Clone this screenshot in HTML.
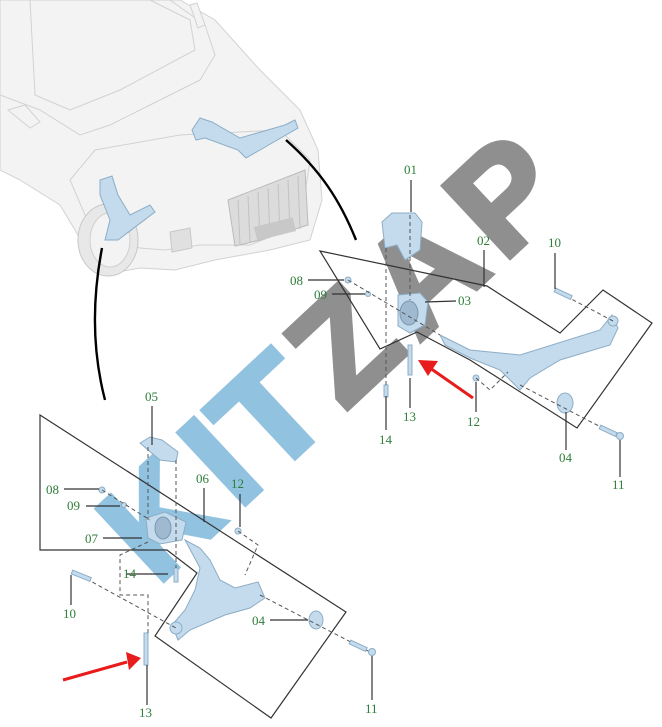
<!DOCTYPE html>
<html><head><meta charset="utf-8"><style>
html,body{margin:0;padding:0;background:#fff;width:662px;height:727px;overflow:hidden}
svg{display:block}
.l{font-family:"Liberation Serif",serif;font-size:13px;fill:#2f7d3a}
.p{fill:#c3dbec;stroke:#8cadc6;stroke-width:1}
.ln{stroke:#333;stroke-width:1.2;fill:none}
.d{stroke:#555;stroke-width:1;stroke-dasharray:4 3;fill:none}
.c{fill:#f3f3f3;stroke:#d2d2d2;stroke-width:1}
</style></head><body>
<svg width="662" height="727" viewBox="0 0 662 727" xmlns="http://www.w3.org/2000/svg">
<path class="c" d="M0,0 L180,0 L215,20 L260,70 L300,110 L318,150 L322,200 L310,240 L270,250 L215,260 L175,270 L140,268 L118,272 L95,265 L75,230 L60,205 L20,180 L0,170 Z"/>
<path class="c" d="M0,0 L170,0 L205,25 L215,55 L200,80 L150,105 L110,125 L80,135 L40,110 L0,95 Z" fill="#efefef"/>
<path class="c" d="M30,0 L150,0 L190,20 L195,50 L120,90 L70,110 L35,95 Z" fill="#ebebeb"/>
<path class="c" d="M190,5 L197,3 L205,25 L198,28 Z"/>
<path class="c" d="M8,110 L25,105 L40,122 L30,128 Z"/>
<path class="c" d="M70,180 L95,150 L180,135 L280,130 L310,160 L300,225 L250,245 L200,245 L165,250 L140,248 L110,240 L85,215 Z" fill="#f0f0f0"/>
<path d="M228,200 L305,170 L308,225 L260,240 L235,246 Z" fill="#dcdcdc" stroke="#bbb"/>
<g stroke="#c2c2c2" stroke-width="1">
<line x1="238" y1="200" x2="240" y2="245"/><line x1="248" y1="196" x2="250" y2="243"/><line x1="258" y1="192" x2="260" y2="240"/><line x1="268" y1="188" x2="270" y2="238"/><line x1="278" y1="184" x2="280" y2="235"/><line x1="288" y1="180" x2="290" y2="232"/><line x1="298" y1="176" x2="300" y2="229"/>
</g>
<rect x="255" y="222" width="40" height="14" fill="#c8c8c8" transform="rotate(-14 275 229)"/>
<path d="M170,232 L190,228 L192,248 L172,252 Z" fill="#e0e0e0" stroke="#c8c8c8"/>
<ellipse cx="108" cy="240" rx="30" ry="36" fill="#e8e8e8" stroke="#c8c8c8"/>
<ellipse cx="110" cy="240" rx="20" ry="27" fill="#f3f3f3" stroke="#cfcfcf"/>
<path class="p" d="M100,180 L112,176 L118,195 L130,215 L150,205 L155,212 L118,240 L105,240 L110,220 L100,195 Z"/>
<path class="p" d="M192,130 L200,118 L212,122 L240,138 L285,125 L295,120 L298,128 L260,150 L246,158 L238,150 L205,138 L196,140 Z"/>
<path d="M286,140 C320,170 340,200 356,240" stroke="#000" stroke-width="2.4" fill="none"/>
<path d="M102,248 C92,300 92,350 105,400" stroke="#000" stroke-width="2.4" fill="none"/>
<!-- watermark -->
<g transform="translate(253,497) rotate(-43)" font-family="Liberation Sans, sans-serif" font-weight="bold" font-size="142" stroke-width="5" stroke-linejoin="miter" opacity="0.95">
<text x="-131" y="0" fill="#8cbfdf" stroke="#8cbfdf" textLength="96" lengthAdjust="spacingAndGlyphs">K</text>
<text x="-20" y="0" fill="#8cbfdf" stroke="#8cbfdf" textLength="40" lengthAdjust="spacingAndGlyphs">I</text>
<text x="21" y="0" fill="#8cbfdf" stroke="#8cbfdf" textLength="96" lengthAdjust="spacingAndGlyphs">T</text>
<text x="125" y="0" fill="#8a8a8a" stroke="#8a8a8a" textLength="90" lengthAdjust="spacingAndGlyphs">Z</text>
<text x="226" y="0" fill="#8a8a8a" stroke="#8a8a8a" textLength="104" lengthAdjust="spacingAndGlyphs">A</text>
<text x="342" y="0" fill="#8a8a8a" stroke="#8a8a8a" textLength="96" lengthAdjust="spacingAndGlyphs">P</text>
</g>
<!-- upper box -->
<path class="ln" d="M320,251 L487,286 L560,333 L603,290 L652,323 L577,428 L470,360 L417,332 L380,349 Z"/>
<path class="p" d="M382,222 L392,213 L415,213 L422,222 L420,250 L405,260 L397,245 L385,248 Z"/>
<path class="p" d="M398,295 L420,293 L428,302 L425,325 L410,333 L398,326 Z"/>
<ellipse cx="409" cy="313" rx="9" ry="12" fill="#9fbad0" stroke="#7c98ae"/>
<path class="p" d="M440,335 L470,350 L520,355 L600,330 L612,315 L618,328 L610,345 L560,360 L530,378 L520,390 L510,380 L500,370 L470,358 L445,345 Z"/>
<circle cx="613" cy="321" r="5" class="p"/>
<ellipse cx="565" cy="403" rx="8" ry="10" class="p"/>
<circle cx="348" cy="280" r="3" class="p"/><circle cx="368" cy="294" r="2.5" class="p"/>
<circle cx="476" cy="378" r="3" class="p"/>
<rect x="408" y="345" width="4" height="30" class="p"/>
<rect x="384" y="385" width="4" height="12" class="p"/>
<line class="d" x1="410" y1="215" x2="410" y2="300"/>
<line class="d" x1="386" y1="248" x2="386" y2="385"/>
<line class="d" x1="348" y1="280" x2="440" y2="335"/>
<line class="d" x1="560" y1="293" x2="613" y2="321"/>
<line class="d" x1="520" y1="385" x2="620" y2="437"/>
<path class="d" d="M476,378 L490,390 L508,372"/>
<rect x="555" y="288" width="18" height="4" class="p" transform="rotate(25 555 290)"/>
<rect x="600" y="425" width="18" height="4" class="p" transform="rotate(25 600 427)"/>
<circle cx="620" cy="436" r="3.5" class="p"/>
<g class="ln" stroke-width="1">
<line x1="411" y1="180" x2="411" y2="212"/><line x1="484" y1="250" x2="484" y2="287"/>
<line x1="425" y1="302" x2="456" y2="301"/><line x1="308" y1="280" x2="344" y2="280"/>
<line x1="332" y1="294" x2="365" y2="294"/><line x1="555" y1="253" x2="555" y2="289"/>
<line x1="476" y1="382" x2="476" y2="412"/><line x1="410" y1="378" x2="410" y2="408"/>
<line x1="386" y1="396" x2="386" y2="430"/><line x1="566" y1="412" x2="566" y2="450"/>
<line x1="620" y1="440" x2="620" y2="477"/>
</g>
<text class="l" x="404" y="174">01</text><text class="l" x="477" y="245">02</text>
<text class="l" x="458" y="305">03</text><text class="l" x="290" y="285">08</text>
<text class="l" x="314" y="299">09</text><text class="l" x="548" y="247">10</text>
<text class="l" x="467" y="426">12</text><text class="l" x="403" y="421">13</text>
<text class="l" x="379" y="444">14</text><text class="l" x="559" y="462">04</text>
<text class="l" x="612" y="489">11</text>
<!-- lower box -->
<path class="ln" d="M40,415 L346,612 L271,718 L155,636 L197,573 L167,550 L40,550 Z"/>
<path class="p" d="M140,443 L150,437 L162,440 L178,452 L176,462 L160,460 L148,450 Z"/>
<path class="p" d="M146,518 L165,512 L186,522 L182,540 L160,544 L148,538 Z"/>
<ellipse cx="163" cy="528" rx="8" ry="11" fill="#9fbad0" stroke="#7c98ae"/>
<path class="p" d="M185,540 L200,548 L210,560 L220,580 L235,588 L258,582 L265,598 L250,608 L225,615 L190,630 L178,640 L172,625 L185,610 L195,590 L200,568 Z"/>
<circle cx="176" cy="628" r="6" class="p"/>
<ellipse cx="316" cy="620" rx="7" ry="9" class="p"/>
<circle cx="102" cy="490" r="3" class="p"/><circle cx="124" cy="505" r="2.5" class="p"/>
<circle cx="238" cy="531" r="3" class="p"/>
<rect x="144" y="633" width="4" height="32" class="p"/>
<rect x="174" y="568" width="4" height="14" class="p"/>
<line class="d" x1="148" y1="447" x2="148" y2="520"/>
<line class="d" x1="176" y1="460" x2="176" y2="568"/>
<line class="d" x1="102" y1="490" x2="150" y2="520"/>
<line class="d" x1="74" y1="572" x2="176" y2="628"/>
<line class="d" x1="260" y1="595" x2="370" y2="652"/>
<path class="d" d="M238,531 L258,545 L245,575"/>
<path class="d" d="M148,542 L120,555 L120,595 L148,595 L148,633"/>
<rect x="72" y="570" width="20" height="4" class="p" transform="rotate(22 72 572)"/>
<rect x="350" y="640" width="18" height="4" class="p" transform="rotate(25 350 642)"/>
<circle cx="372" cy="652" r="3.5" class="p"/>
<g class="ln" stroke-width="1">
<line x1="152" y1="406" x2="152" y2="445"/><line x1="204" y1="488" x2="204" y2="522"/>
<line x1="103" y1="538" x2="142" y2="538"/><line x1="64" y1="489" x2="99" y2="489"/>
<line x1="86" y1="506" x2="120" y2="506"/><line x1="240" y1="494" x2="240" y2="527"/>
<line x1="126" y1="574" x2="168" y2="574"/><line x1="71" y1="575" x2="71" y2="605"/>
<line x1="270" y1="620" x2="308" y2="620"/><line x1="147" y1="665" x2="147" y2="705"/>
<line x1="372" y1="656" x2="372" y2="700"/>
</g>
<text class="l" x="145" y="401">05</text><text class="l" x="196" y="483">06</text>
<text class="l" x="85" y="543">07</text><text class="l" x="46" y="494">08</text>
<text class="l" x="67" y="510">09</text><text class="l" x="231" y="488">12</text>
<text class="l" x="123" y="578">14</text><text class="l" x="63" y="618">10</text>
<text class="l" x="252" y="625">04</text><text class="l" x="139" y="717">13</text>
<text class="l" x="365" y="713">11</text>
<line x1="473" y1="398" x2="430" y2="368" stroke="#e81c1c" stroke-width="3"/>
<path d="M418,360 L438,361 L428,376 Z" fill="#e81c1c"/>
<line x1="63" y1="680" x2="127" y2="662" stroke="#e81c1c" stroke-width="3"/>
<path d="M141,658 L126,652 L129,670 Z" fill="#e81c1c"/>
</svg>
</body></html>
